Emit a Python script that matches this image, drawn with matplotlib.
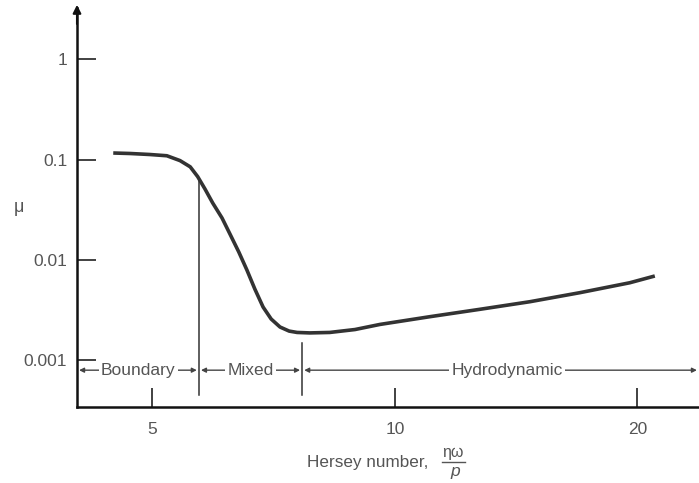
import matplotlib
matplotlib.use("Agg")
import matplotlib.pyplot as plt
from matplotlib.lines import Line2D

# Stribeck curve values
hersey = [4.47, 4.69, 4.96, 5.21, 5.41, 5.57, 5.69, 5.81, 5.94, 6.10, 6.24,
          6.40, 6.55, 6.70, 6.86, 7.02, 7.20, 7.39, 7.56, 7.84, 8.30, 8.92,
          9.58, 11.05, 12.75, 14.71, 16.97, 19.57, 21.02]
mu = [0.1161, 0.1148, 0.1122, 0.1090, 0.0975, 0.0845, 0.0675, 0.0508,
      0.0368, 0.0261, 0.01805, 0.01193, 0.00789, 0.00510, 0.00337, 0.00256,
      0.00213, 0.00194, 0.00188, 0.00186, 0.00188, 0.00201, 0.00226,
      0.00270, 0.00320, 0.00381, 0.00469, 0.00589, 0.00688]

x_ticks = [5, 10, 20]
x_tick_labels = ["5", "10", "20"]
y_ticks = [0.001, 0.01, 0.1, 1]
y_tick_labels = ["0.001", "0.01", "0.1", "1"]

# regime limits (Hersey number) and labels
regime_edges = [4.03, 5.71, 7.67, 23.85]
regime_names = ["Boundary", "Mixed", "Hydrodynamic"]
regime_label_x = [4.80, 6.62, 13.78]

plt.rcParams['font.family'] = ['Liberation Sans', 'DejaVu Sans']

text_col = '#555555'
line_col = '#333333'

W, H = 699, 483
fig = plt.figure(figsize=(W / 100, H / 100), dpi=100)
ax = fig.add_axes([77 / W, 76 / H, 622 / W, 399 / H])

ax.plot(hersey, mu, color=line_col, lw=2.6, solid_capstyle='butt',
        solid_joinstyle='round')

ax.set_xscale('log')
ax.set_yscale('log')
ax.set_xlim(4.03, 23.85)
ax.set_ylim(3.39e-4, 3.25)

ax.set_xticks(x_ticks)
ax.set_xticklabels(x_tick_labels)
ax.set_yticks(y_ticks)
ax.set_yticklabels(y_tick_labels)
ax.minorticks_off()
ax.tick_params(axis='both', direction='in', length=14, width=1.3,
               colors=line_col, labelcolor=text_col, labelsize=12.5)
ax.tick_params(axis='y', pad=7)
ax.tick_params(axis='x', pad=11)

for s in ['top', 'right']:
    ax.spines[s].set_visible(False)
for s in ['left', 'bottom']:
    ax.spines[s].set_linewidth(1.8)
    ax.spines[s].set_color('#111111')

# arrow head on top of the y axis
ax.annotate('', xy=(0, 1.008), xytext=(0, 0.96), xycoords='axes fraction',
            arrowprops=dict(arrowstyle='-|>', color='#111111', lw=1.5,
                            mutation_scale=12, shrinkA=0, shrinkB=0),
            annotation_clip=False)

# regime separators
arrow_y = 7.9e-4
ax.plot([regime_edges[1], regime_edges[1]], [0.065, 4.47e-4],
        color=line_col, lw=1.1)
ax.plot([regime_edges[2], regime_edges[2]], [1.48e-3, 4.47e-4],
        color=line_col, lw=1.1)

for i in range(len(regime_names)):
    ax.annotate('', xy=(regime_edges[i], arrow_y),
                xytext=(regime_edges[i + 1], arrow_y),
                arrowprops=dict(arrowstyle='<|-|>', color='#444444', lw=1.0,
                                mutation_scale=7, shrinkA=1.5, shrinkB=1.5),
                annotation_clip=False)
    ax.text(regime_label_x[i], arrow_y, regime_names[i], ha='center',
            va='center', fontsize=12.5, color=text_col,
            bbox=dict(facecolor='white', edgecolor='none', pad=1.5))

# y label
fig.text(19 / W, 1 - 207 / H, 'μ', ha='center', va='center',
         fontsize=13, color=text_col)

# x label with a stacked fraction
fig.text(307 / W, 1 - 467 / H, 'Hersey number,', ha='left', va='baseline',
         fontsize=12.3, color=text_col)
fig.text(453 / W, 1 - 457 / H, 'ηω', ha='center', va='baseline',
         fontsize=11.5, color=text_col)
fig.add_artist(Line2D([442 / W, 465 / W], [1 - 462 / H, 1 - 462 / H],
                      color=text_col, lw=1.0))
fig.text(455 / W, 1 - 476 / H, 'p', ha='center', va='baseline',
         fontsize=12.5, style='italic', color=text_col)

fig.savefig('out.png', dpi=100)
